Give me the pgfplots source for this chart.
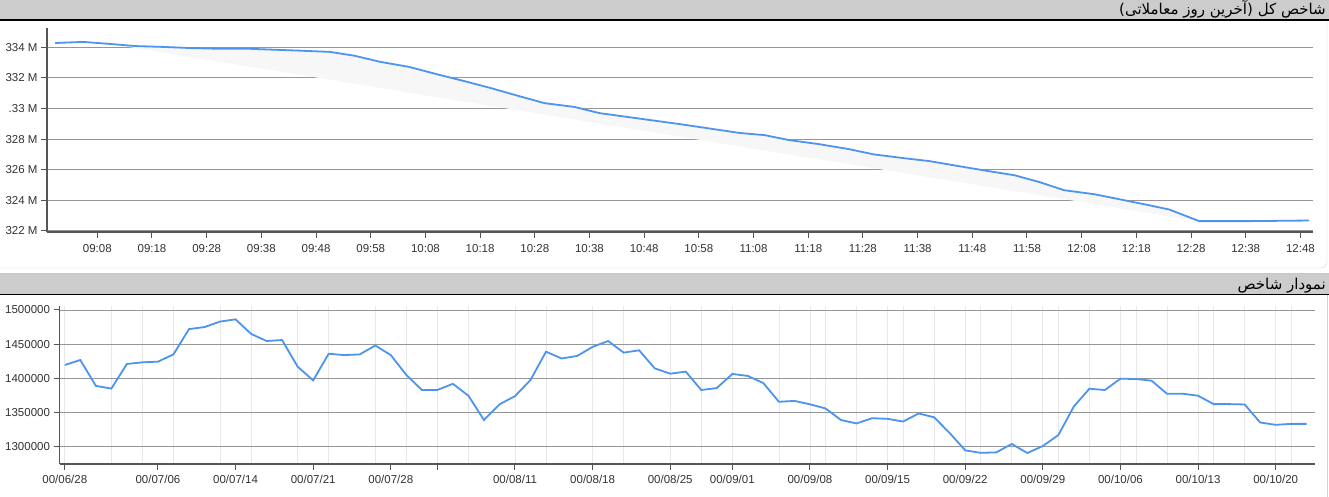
\documentclass[border=0pt]{standalone}
\usepackage{pgfplots}
\pgfplotsset{compat=1.18}
\usepackage{fontspec}
\setmainfont{Liberation Sans}
\newfontfamily\arabicfont[Script=Arabic]{DejaVu Sans}
\TeXXeTstate=1

\definecolor{lineblue}{RGB}{77,148,238}
\definecolor{gridgray}{RGB}{150,150,150}
\definecolor{axisgray}{RGB}{85,85,85}
\definecolor{hdrgray}{RGB}{204,204,204}
\definecolor{labgray}{RGB}{51,51,51}
\definecolor{vgrid}{RGB}{232,232,232}
\definecolor{shade}{RGB}{247,247,247}

\pgfplotsset{
  panel/.style={
    scale only axis,
    axis x line*=bottom, axis y line*=left,
    axis line style={axisgray, line width=1.3pt, -},
    tick style={axisgray, line width=1pt},
    tick align=outside, major tick length=6pt,
    ymajorgrids,
    major grid style={gridgray, line width=0.9pt},
    tick label style={font=\fontsize{11.5}{13}\selectfont, text=labgray},
  },
}

\begin{document}
\begin{tikzpicture}
\useasboundingbox (0,0) rectangle (1329pt,496pt);
\fill[white] (0,0) rectangle (1329pt,496pt);

% header bars
\fill[hdrgray] (0,477pt) rectangle (1329pt,496pt);
\draw[black, line width=1.5pt] (0,476pt) -- (1329pt,476pt);
\draw[gray!35, rounded corners=6pt] (-3pt,228pt) -- (1327pt,228pt) -- (1327pt,475pt);
\fill[hdrgray] (0,202pt) rectangle (1329pt,222pt);
\draw[gray!45] (0,223pt) -- (1329pt,223pt);
\draw[black, line width=1.5pt] (0,201.5pt) -- (1329pt,201.5pt);
\draw[gray!35] (1327pt,201pt) -- (1327pt,-3pt);

\node[anchor=base east, inner sep=0pt] at (1326pt,481.5pt)
  {\arabicfont\fontsize{15}{17}\selectfont\beginR شاخص کل (آخرین روز معاملاتی)\endR};
\node[anchor=base east, inner sep=0pt] at (1326pt,206.5pt)
  {\arabicfont\fontsize{15}{17}\selectfont\beginR نمودار شاخص\endR};

% top: intraday index
\begin{axis}[panel,
  at={(47pt,264pt)}, anchor=south west,
  width=1266pt, height=204pt,
  xmin=538.8, xmax=770.3, ymin=321.93, ymax=335.26,
  xtick={548,558,...,768},
  xticklabels={09:08,09:18,09:28,09:38,09:48,09:58,10:08,10:18,10:28,10:38,10:48,10:58,11:08,11:18,11:28,11:38,11:48,11:58,12:08,12:18,12:28,12:38,12:48},
  ytick={322,324,...,334},
  yticklabels={322 M,324 M,326 M,328 M,.33 M,332 M,334 M},
  xticklabel style={yshift=-3pt},
]
\addplot[fill=shade, draw=none] coordinates {
  (550.3,334.22) (554.9,334.08) (560.4,334.02) (565,333.95) (570.5,333.9)
  (576,333.9) (579.6,333.85) (585,333.78) (590.5,333.7) (595,333.45)
  (599.7,333.05) (605,332.72) (610.5,332.2) (615,331.8) (619.8,331.35)
  (625.2,330.8) (629.8,330.35) (635.3,330.1) (639.8,329.7) (645.3,329.43)
  (654.5,328.98) (665.5,328.4) (670,328.26) (674.6,327.93) (680,327.67)
  (685.5,327.34) (690,327.0) (695.6,326.75) (700.2,326.56) (705.6,326.23)
  (711.1,325.9) (715.7,325.64) (720.3,325.19) (724.8,324.66) (730.3,324.4)
  (734.9,324.07) (739.5,323.74) (744,323.4) (749.5,322.64)
} -- cycle;
\addplot[lineblue, line width=1.8pt] coordinates {
  (540.3,334.28) (545.4,334.35) (550.3,334.22) (554.9,334.08) (560.4,334.02)
  (565,333.95) (570.5,333.9) (576,333.9) (579.6,333.85) (585,333.78)
  (590.5,333.7) (595,333.45) (599.7,333.05) (605,332.72) (610.5,332.2)
  (615,331.8) (619.8,331.35) (625.2,330.8) (629.8,330.35) (635.3,330.1)
  (639.8,329.7) (645.3,329.43) (654.5,328.98) (665.5,328.4) (670,328.26)
  (674.6,327.93) (680,327.67) (685.5,327.34) (690,327.0) (695.6,326.75)
  (700.2,326.56) (705.6,326.23) (711.1,325.9) (715.7,325.64) (720.3,325.19)
  (724.8,324.66) (730.3,324.4) (734.9,324.07) (739.5,323.74) (744,323.4)
  (749.5,322.64) (758.6,322.64) (769.6,322.68)
};
\end{axis}

% bottom: daily index
\begin{axis}[panel,
  at={(59.5pt,32pt)}, anchor=south west,
  width=1255pt, height=158pt,
  xmin=-0.34, xmax=80.5, ymin=1274700, ymax=1505800,
  scaled y ticks=false,
  xtick={0,6,11,16,21,24,29,34,39,43,48,53,58,63,68,73,78},
  xticklabels={00/06/28,00/07/06,00/07/14,00/07/21,00/07/28,,00/08/11,00/08/18,00/08/25,00/09/01,00/09/08,00/09/15,00/09/22,00/09/29,00/10/06,00/10/13,00/10/20},
  minor xtick={0,3,5,7,10,12,15,17,20,22,24,26,29,31,34,36,39,41,43,46,48,49,51,53,54,56,58,59,61,63,64,66,68,69,71,73,74,76,78,79},
  xminorgrids, minor tick length=0pt,
  minor grid style={vgrid, line width=0.8pt},
  ytick={1300000,1350000,1400000,1450000,1500000},
  yticklabels={1300000,1350000,1400000,1450000,1500000},
  xticklabel style={yshift=-2pt},
]
\addplot[lineblue, line width=1.8pt] table {
x y
0 1419500
1 1426800
2 1389000
3 1385000
4 1421000
5 1423400
6 1424400
7 1435000
8 1472000
9 1475000
10 1483000
11 1486300
12 1465000
13 1454600
14 1456000
15 1417000
16 1397000
17 1436000
18 1434000
19 1435000
20 1448000
21 1434000
22 1405000
23 1383000
24 1383000
25 1392000
26 1374600
27 1339000
28 1362000
29 1374000
30 1397600
31 1439000
32 1429000
33 1432700
34 1446000
35 1454600
36 1437600
37 1441000
38 1414600
39 1406800
40 1409800
41 1382900
42 1385800
43 1406400
44 1403500
45 1393000
46 1365700
47 1367000
48 1362000
49 1356000
50 1339000
51 1334000
52 1341700
53 1340800
54 1336800
55 1348600
56 1343000
57 1320000
58 1294700
59 1291000
60 1291700
61 1304000
62 1290800
63 1301000
64 1317000
65 1358900
66 1384800
67 1382900
68 1399500
69 1399000
70 1396600
71 1377500
72 1377500
73 1374600
74 1362300
75 1362300
76 1361800
77 1335400
78 1332000
79 1333400
80 1333400
};
\end{axis}
\end{tikzpicture}
\end{document}
